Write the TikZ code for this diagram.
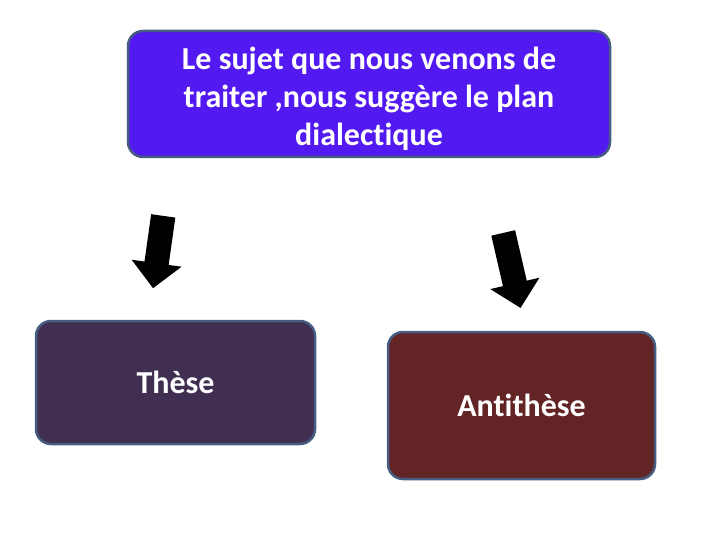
\documentclass[tikz,border=0pt]{standalone}
\usepackage{fontspec}
\setmainfont[Ligatures=NoCommon]{Carlito}
\usepackage{tikz}
\usetikzlibrary{shapes.arrows}
\definecolor{sujetblue}{RGB}{82,26,240}
\definecolor{thesepurple}{RGB}{64,47,80}
\definecolor{antired}{RGB}{98,36,36}
\definecolor{bordgris}{RGB}{70,92,130}
\tikzset{
  bloc/.style={draw=bordgris,line width=2.5pt,rounded corners=15pt,text=white,
    font=\bfseries\fontsize{32}{38}\selectfont,align=center,inner sep=0pt},
  fleche/.style={single arrow,fill=black,inner sep=0pt,text height=24pt,text depth=0pt,
    single arrow head extend=13pt}
}

\begin{document}
\begin{tikzpicture}[x=1pt,y=-1pt]
      \useasboundingbox (0,0) rectangle (720,540);
      \node [bloc,fill=sujetblue,minimum width=482pt,minimum height=126pt] (sujet) at (369,94)
        {\rule{0pt}{32pt}Le sujet que nous venons de\\traiter ,nous suggère le plan\\dialectique};
      \node [bloc,fill=thesepurple,minimum width=279pt,minimum height=123pt] (these) at (175.5,382.5) {Thèse};
      \node [bloc,fill=antired,minimum width=267pt,minimum height=147pt] (anti) at (521.5,405.5) {Antithèse};
      \node [fleche,rotate=262,minimum height=73pt] (f1) at (159,246) {};
      \node [fleche,rotate=283,minimum height=77pt] (f2) at (510.5,264.5) {};
    \end{tikzpicture}
\end{document}
